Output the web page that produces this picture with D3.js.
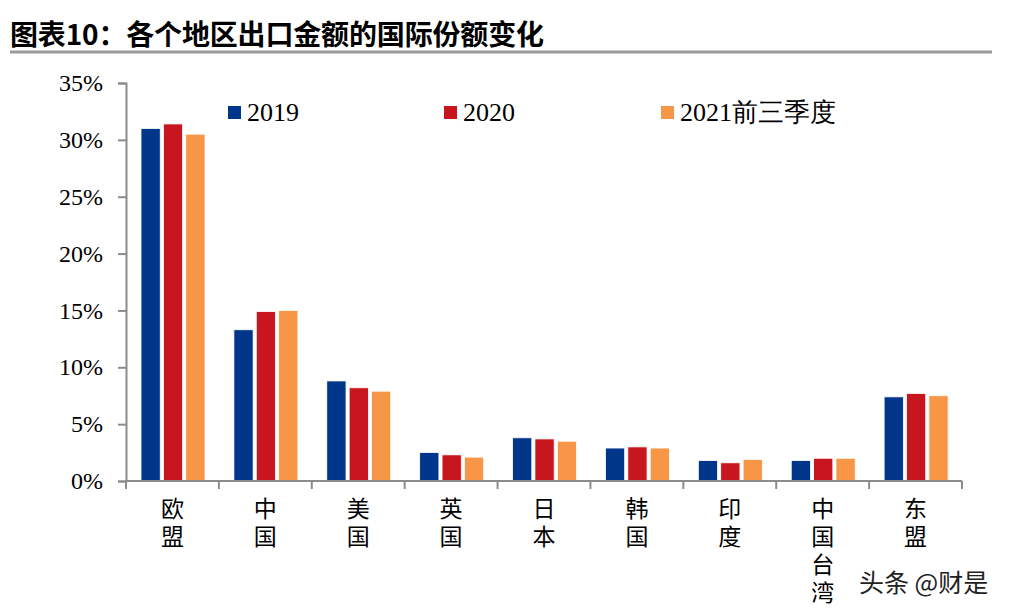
<!DOCTYPE html>
<html><head><meta charset="utf-8">
<script src="https://cdn.jsdelivr.net/npm/d3@7"></script>
<style>body{margin:0;background:#fff}svg{display:block}</style>
</head><body>
<script>
const categories = ["欧盟","中国","美国","英国","日本","韩国","印度","中国台湾","东盟"];
const seriesNames = ["2019","2020","2021前三季度"];
const v2019 = [31.0,13.3,8.8,2.5,3.8,2.9,1.8,1.8,7.4];
const v2020 = [31.4,14.9,8.2,2.3,3.7,3.0,1.6,2.0,7.7];
const v2021 = [30.5,15.0,7.9,2.1,3.5,2.9,1.9,2.0,7.5];
const yTicks = [0,5,10,15,20,25,30,35];
const colors = ["#00368A","#C8161E","#F79646"];

const W=1010,H=614;
const svg=d3.select("body").append("svg").attr("width",W).attr("height",H);
const m={left:126,right:962,top:83,bottom:481};
const x=d3.scaleBand().domain(categories).range([m.left,m.right]);
const xi=d3.scaleBand().domain(seriesNames).range([15,79]).paddingInner(0.14);
const y=d3.scaleLinear().domain([0,35]).range([m.bottom,m.top]);
const data=[v2019,v2020,v2021];

// title
svg.append("text").attr("x",10).attr("y",45).attr("font-family","'Noto Sans CJK SC',sans-serif")
 .attr("font-weight","bold").attr("font-size",28).attr("textLength",534).attr("fill","#000").text("图表10：各个地区出口金额的国际份额变化");
svg.append("line").attr("x1",10).attr("x2",992).attr("y1",52).attr("y2",52).attr("stroke","#9a9a9a").attr("stroke-width",3);

// bars
categories.forEach((c,i)=>{
  seriesNames.forEach((s,j)=>{
    svg.append("rect").attr("x",x(c)+xi(s)).attr("width",xi.bandwidth())
      .attr("y",y(data[j][i])).attr("height",y(0)-y(data[j][i]))
      .attr("fill",colors[j]).attr("stroke","#fff").attr("stroke-width",0.8);
  });
});

// y axis
const ya=svg.append("g").attr("transform",`translate(${m.left},0)`)
 .call(d3.axisLeft(y).tickValues(yTicks).tickSize(8).tickPadding(15).tickFormat(d=>d+"%"));
ya.select(".domain").attr("stroke","#8c8c8c").attr("stroke-width",2);
ya.selectAll(".tick line").attr("stroke","#8c8c8c").attr("stroke-width",2);
ya.selectAll("text").attr("font-family","'Liberation Serif','Times New Roman',serif").attr("font-size",24).attr("fill","#000");

// x axis
const xa=svg.append("g").attr("transform",`translate(0,${m.bottom})`);
xa.append("line").attr("x1",m.left-1).attr("x2",m.right).attr("stroke","#8c8c8c").attr("stroke-width",2);
const bounds=categories.map(c=>x(c)).concat([m.right]);
xa.selectAll("line.t").data(bounds).enter().append("line").attr("class","t")
 .attr("x1",d=>d).attr("x2",d=>d).attr("y1",0).attr("y2",8).attr("stroke","#8c8c8c").attr("stroke-width",2);
xa.selectAll("text.cat").data(categories).enter().append("text").attr("class","cat")
  .attr("x",c=>x(c)+x.bandwidth()/2).attr("y",16)
  .style("writing-mode","vertical-rl").style("letter-spacing","5px")
  .attr("font-family","'Noto Sans CJK SC',sans-serif").attr("font-size",23).attr("fill","#000")
  .text(c=>c);

// legend
const lx=[228,444,661];
seriesNames.forEach((s,j)=>{
  svg.append("rect").attr("x",lx[j]).attr("y",106).attr("width",13).attr("height",13).attr("fill",colors[j]);
  svg.append("text").attr("x",lx[j]+19).attr("y",121).attr("font-family","'Liberation Serif','Times New Roman',serif")
    .attr("font-size",26).attr("fill","#000").text(s);
});

// watermark
svg.append("text").attr("x",859).attr("y",592).attr("font-family","'Noto Sans CJK SC',sans-serif")
 .attr("font-size",25).attr("fill","#222").text("头条 @财是");
</script>
</body></html>
